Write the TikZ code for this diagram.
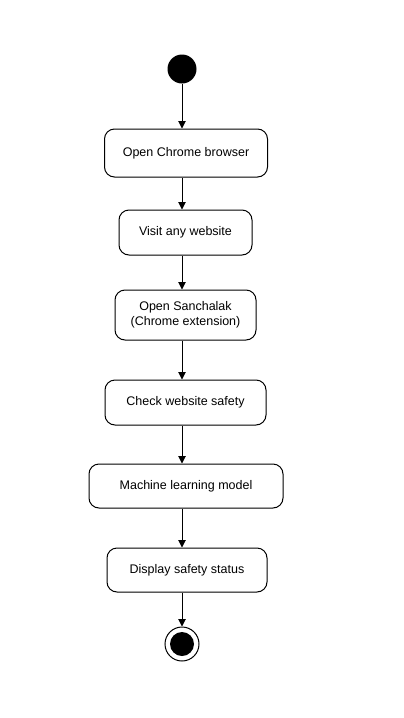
\documentclass[tikz,border=0pt]{standalone}
\usepackage{fontspec}
\setmainfont{Liberation Sans}
\usepackage{tikz}
\usetikzlibrary{arrows.meta}

\begin{document}
\begin{tikzpicture}[x=1pt,y=-1pt,line width=1pt]
	\tikzstyle{activity}=[draw,rounded corners=10pt,fill=white,align=center,font=\fontsize{12.5}{15}\selectfont];
	\tikzstyle{flow}=[-{Triangle[length=7.5pt,width=7.5pt]}];
	\tikzstyle{startnode}=[circle,fill=black,inner sep=0pt,minimum size=29pt];
\newcommand{\boxheight}{45pt}
%<--------------------------------------------------------------------------->%
	\useasboundingbox (0,0) rectangle (404,718);
	\node[startnode] (start) at (182,69) {};
	\node[activity,minimum width=163pt,minimum height=48pt] (open)    at (186,153)   {Open Chrome browser};
	\node[activity,minimum width=133pt,minimum height=\boxheight] (visit)   at (185.5,232.5) {Visit any website};
	\node[activity,minimum width=141pt,minimum height=50pt] (sancha)  at (185.5,315) {Open Sanchalak\\(Chrome extension)};
	\node[activity,minimum width=161pt,minimum height=\boxheight] (check)   at (185.5,402.5) {Check website safety};
	\node[activity,minimum width=194pt,minimum height=44pt] (model)   at (186,486)   {Machine learning model};
	\node[activity,minimum width=160pt,minimum height=44pt] (display) at (187,570)   {Display safety status};
	\node[circle,draw,fill=white,inner sep=0pt,minimum size=34pt] (stop) at (182,644) {};
	\node[circle,fill=black,inner sep=0pt,minimum size=24pt] (stopdot) at (stop) {};
	%% Flows
	\draw[flow] (start.south) -- (start.south |- open.north);
	\draw[flow] (start.south |- open.south) -- (start.south |- visit.north);
	\draw[flow] (start.south |- visit.south) -- (start.south |- sancha.north);
	\draw[flow] (start.south |- sancha.south) -- (start.south |- check.north);
	\draw[flow] (start.south |- check.south) -- (start.south |- model.north);
	\draw[flow] (start.south |- model.south) -- (start.south |- display.north);
	\draw[flow] (start.south |- display.south) -- (stop.north);
\end{tikzpicture}
\end{document}
